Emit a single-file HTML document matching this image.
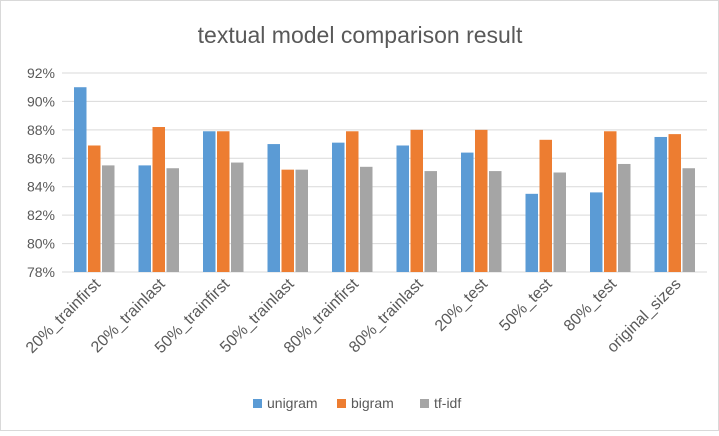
<!DOCTYPE html>
<html><head><meta charset="utf-8"><style>
body{margin:0;background:#fff;}
svg text{font-family:"Liberation Sans",sans-serif;fill:#595959;}
</style></head><body>
<svg id="chart" width="719" height="431" viewBox="0 0 719 431">
<rect x="0.5" y="0.5" width="718" height="430" fill="#fff" stroke="#d9d9d9"/>
<text x="360" y="43" text-anchor="middle" font-size="23">textual model comparison result</text>
<g id="grid"></g><g id="bars"></g><g id="xlabels"></g><g id="ylabels"></g>
<g>
<rect x="253" y="399" width="9" height="9" fill="#5b9bd5"/>
<text x="267" y="408" font-size="14">unigram</text>
<rect x="337" y="399" width="9" height="9" fill="#ed7d31"/>
<text x="351" y="408" font-size="14">bigram</text>
<rect x="420" y="399" width="9" height="9" fill="#a5a5a5"/>
<text x="434" y="408" font-size="14">tf-idf</text>
</g>
</svg>
<script>
const categories=["20%_trainfirst","20%_trainlast","50%_trainfirst","50%_trainlast","80%_trainfirst","80%_trainlast","20%_test","50%_test","80%_test","original_sizes"];
const unigram=[91.0,85.5,87.9,87.0,87.1,86.9,86.4,83.5,83.6,87.5];
const bigram=[86.9,88.2,87.9,85.2,87.9,88.0,88.0,87.3,87.9,87.7];
const tfidf=[85.5,85.3,85.7,85.2,85.4,85.1,85.1,85.0,85.6,85.3];
const yTicks=[78,80,82,84,86,88,90,92];
const ns="http://www.w3.org/2000/svg";
const x0=62,x1=707,yMin=78,yMax=92,yB=272,yT=73;
const y=v=>yB-(v-yMin)/(yMax-yMin)*(yB-yT);
const band=(x1-x0)/categories.length;
const cx=i=>x0+band*(i+0.5);
function mk(t,a,p){const e=document.createElementNS(ns,t);for(const k in a)e.setAttribute(k,a[k]);document.getElementById(p).appendChild(e);return e;}
yTicks.forEach(t=>{
 const l=mk('line',{x1:x0,x2:x1,y1:y(t),y2:y(t),stroke:'#d9d9d9','stroke-width':1},'grid');
 
 
 const tx=mk('text',{x:x0-7,y:y(t)+5,'text-anchor':'end','font-size':14},'ylabels');
 tx.textContent=t+'%';
 
 
});
const series=[["unigram",unigram,"#5b9bd5"],["bigram",bigram,"#ed7d31"],["tfidf",tfidf,"#a5a5a5"]];
const bw=12.5,gap=1.5;
categories.forEach((c,i)=>{
 series.forEach((s,j)=>{
  const v=s[1][i];
  const bx=cx(i)-(3*bw+2*gap)/2+j*(bw+gap);
  const r=mk('rect',{x:bx,y:y(v),width:bw,height:yB-y(v),fill:s[2]},'bars');
  
  
 });
 const lx=cx(i)+7,ly=285;
 const tx=mk('text',{x:lx,y:ly,'text-anchor':'end','font-size':16,transform:'rotate(-45 '+lx+' '+ly+')'},'xlabels');
 tx.textContent=c;
 
 
});
</script>
</body></html>
